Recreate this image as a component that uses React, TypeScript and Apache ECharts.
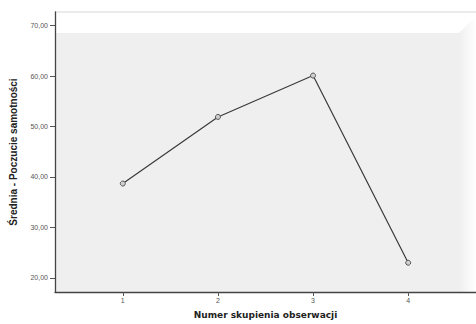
import React, { useEffect, useRef } from "react";
import * as echarts from "echarts";

const categories = [1, 2, 3, 4];
const means = [38.7, 51.9, 60.1, 23.0];
const yTicks = [20, 30, 40, 50, 60, 70];
const xTitle = "Numer skupienia obserwacji";
const yTitle = "Średnia - Poczucie samotności";

export default function App() {
  const ref = useRef<HTMLDivElement>(null);
  useEffect(() => {
    if (!ref.current) return;
    const chart = echarts.init(ref.current, null, { renderer: "svg" });
    const font = "Liberation Sans";
    chart.setOption({
      animation: false,
      backgroundColor: "#ffffff",
      graphic: [
        { type: "rect", z: -10, shape: { x: 55, y: 33, width: 404, height: 259 }, style: { fill: "#efefef" } },
        {
          type: "rect", z: -10, shape: { x: 459, y: 12, width: 17, height: 280 },
          style: {
            fill: new echarts.graphic.LinearGradient(0, 0, 1, 0, [
              { offset: 0, color: "#efefef" },
              { offset: 1, color: "#ffffff" },
            ]),
          },
        },
        { type: "polygon", z: -9, shape: { points: [[459, 33], [476, 16], [476, 12], [459, 12]] }, style: { fill: "#ffffff" } },
        { type: "line", z: -8, shape: { x1: 55, y1: 12, x2: 476, y2: 12 }, style: { stroke: "#d8d8d8", lineWidth: 1 } },
      ],
      grid: { left: 55, top: 12, right: -1, bottom: 32, containLabel: false },
      xAxis: {
        type: "value",
        min: 0.287,
        max: 4.713,
        name: xTitle,
        nameLocation: "middle",
        nameGap: 18,
        nameTextStyle: { fontFamily: "DejaVu Sans", fontSize: 9, fontWeight: "bold", color: "#222" },
        axisLine: { lineStyle: { color: "#444", width: 1.3 } },
        axisTick: { show: true, length: 4, customValues: categories, lineStyle: { color: "#555" } },
        axisLabel: { customValues: categories, margin: 5, fontFamily: font, fontSize: 7, color: "#555" },
        splitLine: { show: false },
      },
      yAxis: {
        type: "value",
        min: 17.2,
        max: 72.7,
        name: yTitle,
        nameLocation: "middle",
        nameGap: 37,
        nameTextStyle: { fontFamily: font, fontSize: 10, fontWeight: "bold", color: "#222" },
        axisLine: { show: true, lineStyle: { color: "#444", width: 1.3 } },
        axisTick: { show: true, length: 5, customValues: yTicks, lineStyle: { color: "#555" } },
        axisLabel: {
          customValues: yTicks,
          margin: 7,
          fontFamily: font,
          fontSize: 7,
          color: "#555",
          formatter: (v: number) => v.toFixed(2).replace(".", ","),
        },
        splitLine: { show: false },
      },
      series: [
        {
          type: "line",
          data: categories.map((c, i) => [c, means[i]]),
          symbol: "circle",
          symbolSize: 5,
          itemStyle: { color: "#cfcfcf", borderColor: "#555", borderWidth: 1 },
          lineStyle: { color: "#3a3a3a", width: 1.2 },
        },
      ],
    });
    return () => chart.dispose();
  }, []);
  return <div ref={ref} style={{ position: "fixed", left: 0, top: 0, width: 476, height: 324 }} />;
}
